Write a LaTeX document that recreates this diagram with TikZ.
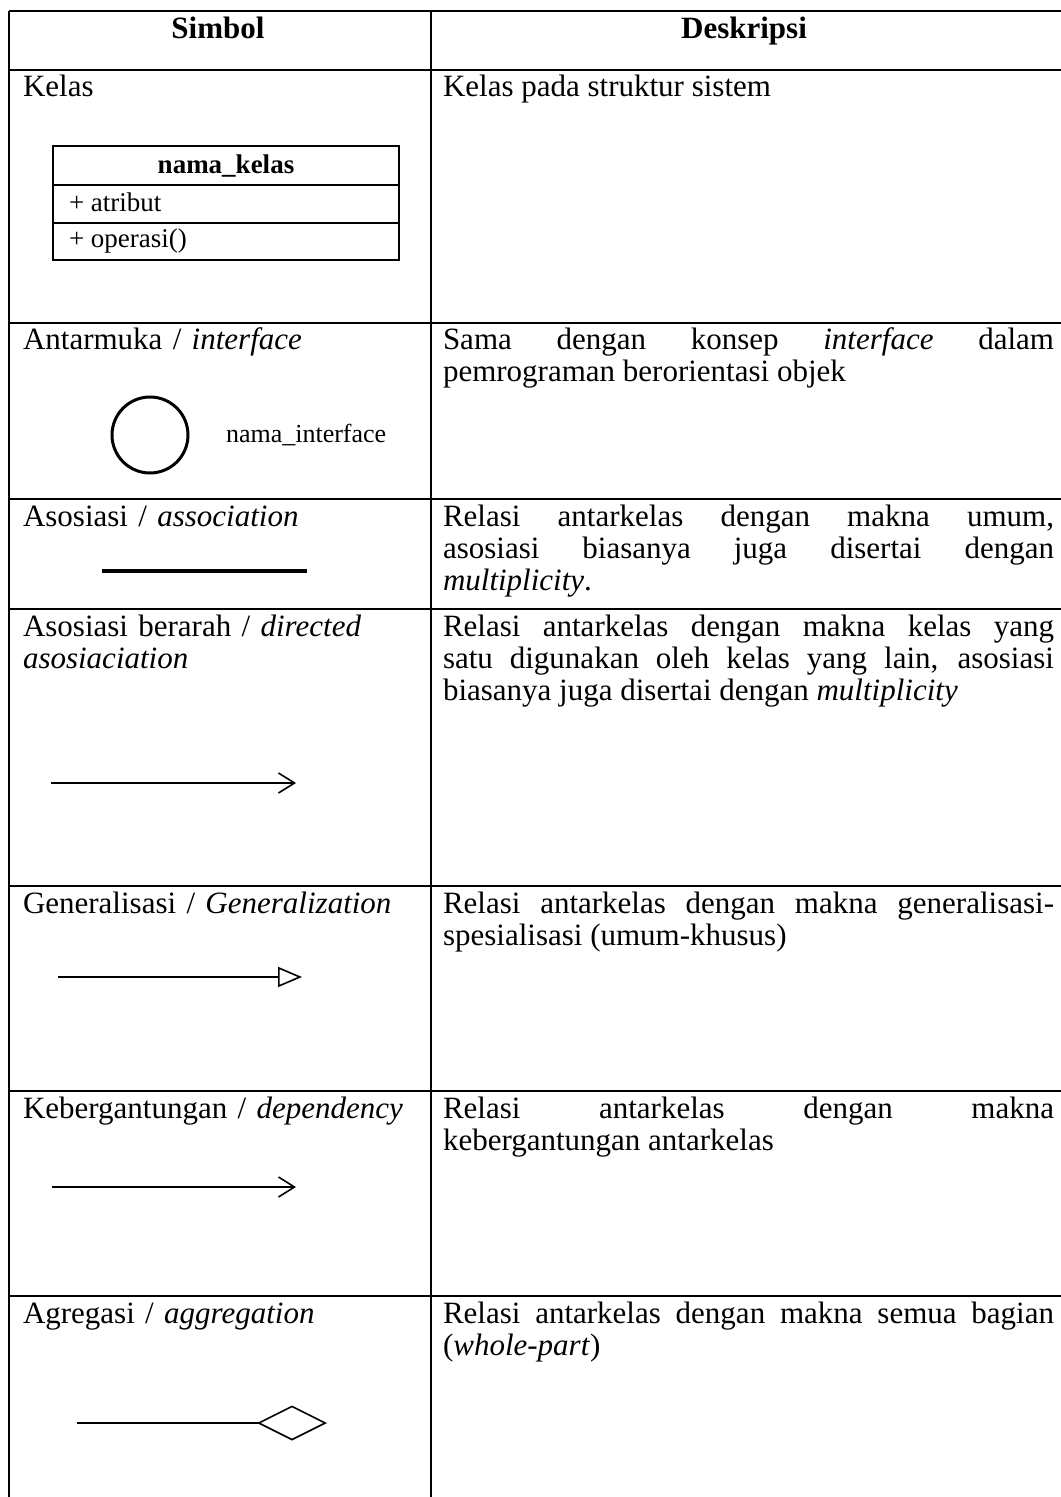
\documentclass[tikz,border=0pt]{standalone}
\usepackage{fontspec}
\setmainfont{Liberation Serif}
\usetikzlibrary{arrows.meta,positioning}

\begin{document}
\begin{tikzpicture}[x=0.5pt,y=-0.5pt,
    every node/.style={inner sep=0pt, outer sep=0pt},
    grid/.style={line width=0.7pt},
    head/.style={font=\fontsize{15.5}{16}\selectfont\bfseries, anchor=base},
    lbl/.style={font=\fontsize{15.5}{16}\selectfont, anchor=base west, text width=200pt, align=left},
    desc/.style={font=\fontsize{15.5}{16}\selectfont, anchor=base west, text width=305.5pt, align=justify},
    small/.style={font=\fontsize{13.5}{16}\selectfont, anchor=base west},
    rel/.style={line width=0.8pt},
    barb/.style={rel, -{Straight Barb[length=8pt,width=10pt]}}]
\useasboundingbox (0,0) rectangle (1060,1497);

\foreach \y in {11,70,323,499,609,886,1091,1296}
    \draw[grid] (9,\y) -- (1062,\y);
\foreach \x in {9,431,1062}
    \draw[grid] (\x,11) -- (\x,1497);

\node[head] (hSim) at (218,39) {Simbol};
\node[head] (hDes) at (744,39) {Deskripsi};

% kelas
\node[lbl] (lK) at (23,97) {Kelas};
\node[desc] (dK) at (443,97) {Kelas pada struktur sistem};
\draw[line width=1pt] (53,146) rectangle (399,260);
\foreach \y in {185,223}
    \draw[line width=1pt] (53,\y) -- (399,\y);
\node[font=\fontsize{13.5}{16}\selectfont\bfseries, anchor=base] (cName) at (226,174) {nama\_kelas};
\node[small] (cAttr) at (69,212) {+ atribut};
\node[small] (cOp) at (69,248) {+ operasi()};

% interface
\node[lbl] (lI) at (23,350) {Antarmuka / \textit{interface}};
\node[desc] (dI) at (443,350) {Sama dengan konsep \textit{interface} dalam\linebreak pemrograman berorientasi objek};
\node[draw, circle, minimum size=38pt, line width=1.5pt] (iface) at (150,435) {};
\node[small, font=\fontsize{13}{16}\selectfont, right=19pt of iface.east, anchor=west] (iName) {nama\_interface};

% asosiasi
\node[lbl] (lA) at (23,526) {Asosiasi / \textit{association}};
\node[desc] (dA) at (443,526) {Relasi antarkelas dengan makna umum,\linebreak asosiasi biasanya juga disertai dengan\linebreak \textit{multiplicity}.};
\coordinate (asA) at (102,571);
\coordinate (asB) at (307,571);
\draw[line width=1.75pt] (asA) -- (asB);

% berarah
\node[lbl] (lD) at (23,636) {Asosiasi berarah / \textit{directed}\\\textit{asosiaciation}};
\node[desc] (dD) at (443,636) {Relasi antarkelas dengan makna kelas yang\linebreak satu digunakan oleh kelas yang lain, asosiasi\linebreak biasanya juga disertai dengan \textit{multiplicity}};
\coordinate (drA) at (51,783);
\coordinate (drB) at (296,783);
\draw[barb] (drA) -- (drB);

% generalisasi
\node[lbl] (lG) at (23,913) {Generalisasi / \textit{Generalization}};
\node[desc] (dG) at (443,913) {Relasi antarkelas dengan makna generalisasi-\linebreak spesialisasi (umum-khusus)};
\coordinate (gnA) at (58,977);
\coordinate (gnB) at (302,977);
\draw[rel, -{Triangle[open,length=12pt,width=10pt]}] (gnA) -- (gnB);

% dependency
\node[lbl] (lP) at (23,1118) {Kebergantungan / \textit{dependency}};
\node[desc] (dP) at (443,1118) {Relasi antarkelas dengan makna\linebreak kebergantungan antarkelas};
\coordinate (dpA) at (52,1187);
\coordinate (dpB) at (296,1187);
\draw[barb] (dpA) -- (dpB);

% agregasi
\node[lbl] (lR) at (23,1323) {Agregasi / \textit{aggregation}};
\node[desc] (dR) at (443,1323) {Relasi antarkelas dengan makna semua bagian\linebreak (\textit{whole-part})};
\coordinate (agA) at (77,1423);
\coordinate (agB) at (327,1423);
\draw[rel, -{Diamond[open,length=35pt,width=17.5pt]}] (agA) -- (agB);
\end{tikzpicture}
\end{document}
